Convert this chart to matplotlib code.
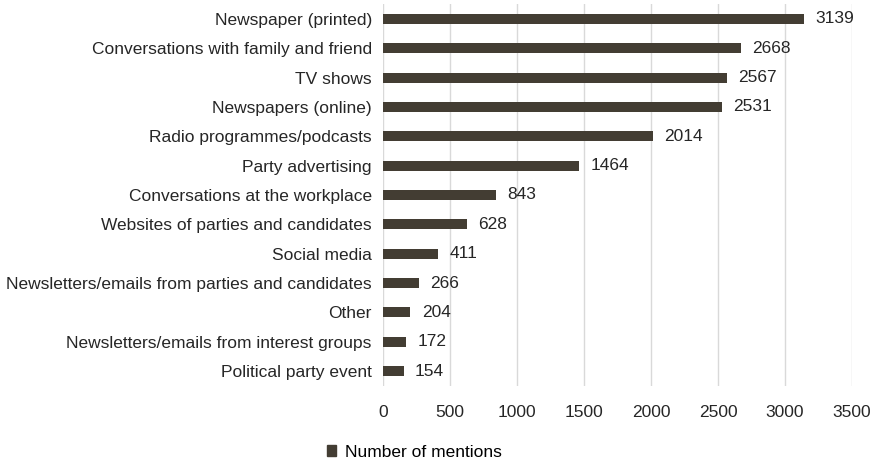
import matplotlib
matplotlib.use("Agg")
import matplotlib.pyplot as plt
from matplotlib import font_manager
from matplotlib.patches import Patch

names = {f.name for f in font_manager.fontManager.ttflist}
FAM = "Liberation Sans Narrow" if "Liberation Sans Narrow" in names else "Liberation Sans"
plt.rcParams["font.family"] = [FAM, "DejaVu Sans"]
FS = 12.5

categories = ["Newspaper (printed)", "Conversations with family and friend", "TV shows",
              "Newspapers (online)", "Radio programmes/podcasts", "Party advertising",
              "Conversations at the workplace", "Websites of parties and candidates",
              "Social media", "Newsletters/emails from parties and candidates", "Other",
              "Newsletters/emails from interest groups", "Political party event"]
mentions = [3139, 2668, 2567, 2531, 2014, 1464, 843, 628, 411, 266, 204, 172, 154]
xticks = [0, 500, 1000, 1500, 2000, 2500, 3000, 3500]

BAR = "#433d33"
TXT = "#262626"
fig = plt.figure(figsize=(8.78, 4.66), dpi=100)
ax = fig.add_axes([0.4362, 0.1723, 0.5342, 0.8185])
y = range(len(categories))
ax.barh(y, mentions, height=0.34, color=BAR)
for i, v in enumerate(mentions):
    ax.text(v + 85, i, str(v), va="center", ha="left", fontsize=FS, color=TXT)
ax.set_ylim(len(categories) - 0.5, -0.5)
ax.set_xlim(0, 3500)
ax.set_xticks(xticks)
ax.set_yticks(list(y))
ax.set_yticklabels(categories, fontsize=FS, color=TXT)
ax.tick_params(axis="x", labelsize=FS, colors=TXT, length=0, pad=14)
ax.tick_params(axis="y", length=0, pad=8)
ax.grid(axis="x", color="#d9d9d9", linewidth=1)
ax.set_axisbelow(True)
for s in ax.spines.values():
    s.set_visible(False)
fig.legend(handles=[Patch(color=BAR, label="Number of mentions")], loc="center",
           bbox_to_anchor=(0.472, 0.03), frameon=False, fontsize=FS,
           handlelength=0.55, handleheight=0.55, handletextpad=0.5)
fig.savefig("out.png", dpi=100)
